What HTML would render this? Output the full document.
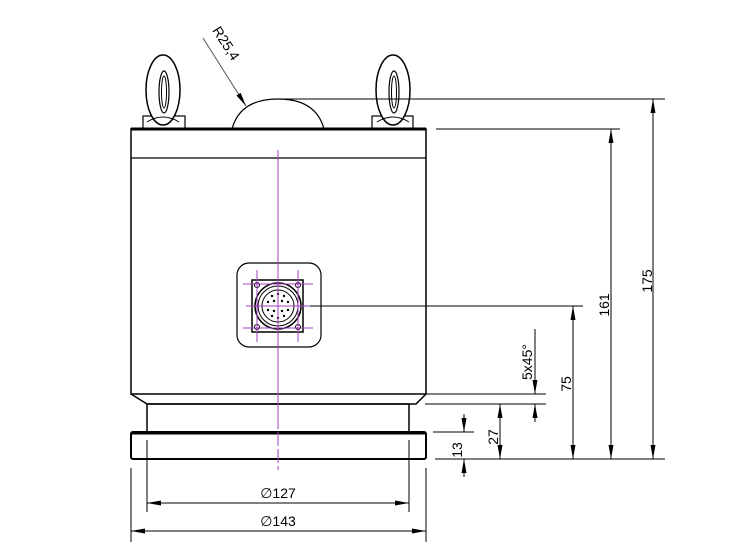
<!DOCTYPE html>
<html><head><meta charset="utf-8"><style>
html,body{margin:0;padding:0;background:#fff;}
svg{display:block;}
text{font-family:"Liberation Sans",sans-serif;font-size:14px;fill:#000;}
</style></head><body>
<svg width="752" height="550" viewBox="0 0 752 550" xmlns="http://www.w3.org/2000/svg">
<defs>
<marker id="b" viewBox="0 0 14 5" refX="14" refY="2.5" markerWidth="14" markerHeight="5" orient="auto-start-reverse" markerUnits="userSpaceOnUse"><path d="M0,0 L14,2.5 L0,5z" fill="#000"/></marker>
</defs>
<g fill="none" stroke="#000">
<!-- eye bolts -->
<rect x="143" y="116" width="42" height="13" fill="#fff" stroke-width="1.2"/>
<ellipse cx="163" cy="90" rx="17" ry="35" stroke-width="1.5" fill="#fff"/>
<ellipse cx="164" cy="92" rx="5" ry="21" stroke-width="1.2"/>
<ellipse cx="164" cy="92" rx="2.5" ry="16" stroke-width="1"/>
<rect x="372" y="116" width="41" height="13" fill="#fff" stroke-width="1.2"/>
<ellipse cx="393" cy="90" rx="17" ry="35" stroke-width="1.5" fill="#fff"/>
<ellipse cx="394" cy="92" rx="5" ry="21" stroke-width="1.2"/>
<ellipse cx="394" cy="92" rx="2.5" ry="16" stroke-width="1"/>
<path d="M147,122 Q163,112 179,122" stroke-width="1"/>
<path d="M377,122 Q393,112 409,122" stroke-width="1"/>
<!-- dome -->
<path d="M232,129 Q240,99 278,99 Q316,99 324,129" stroke-width="1.2"/>
<line x1="278" y1="99" x2="665" y2="99" stroke-width="1"/>
<!-- body -->
<rect x="131" y="129" width="295" height="265" stroke-width="1.5"/>
<line x1="131" y1="129" x2="426" y2="129" stroke-width="3"/>
<line x1="131" y1="158" x2="426" y2="158" stroke-width="1.2"/>
<path d="M131,394 L147,404 L416,404 L426,394" stroke-width="1.5"/>
<rect x="147" y="404" width="262" height="28" stroke-width="1.5"/>
<rect x="131" y="432" width="295" height="27" rx="2" stroke-width="2"/>
<line x1="131" y1="433" x2="426" y2="433" stroke-width="3"/>
<!-- connector -->
<rect x="237" y="263" width="84" height="84" rx="12" stroke-width="1.2"/>
<rect x="252" y="280" width="51" height="52" stroke-width="1.5"/>
<circle cx="278" cy="306" r="23" stroke-width="1.5"/>
<circle cx="278" cy="306" r="20" stroke-width="1"/>
<circle cx="278" cy="306" r="16" stroke-width="1"/>
<circle cx="257" cy="285" r="2.5"/><circle cx="298" cy="285" r="2.5"/>
<circle cx="257" cy="327" r="2.5"/><circle cx="298" cy="327" r="2.5"/>
<line x1="278" y1="306" x2="578" y2="306"/>
</g>
<g fill="#000">
<circle cx="272" cy="296" r="1.2"/><circle cx="278" cy="294" r="1.2"/><circle cx="284" cy="296" r="1.2"/>
<circle cx="268" cy="302" r="1.2"/><circle cx="274" cy="301" r="1.2"/><circle cx="282" cy="301" r="1.2"/><circle cx="288" cy="302" r="1.2"/>
<circle cx="268" cy="310" r="1.2"/><circle cx="274" cy="311" r="1.2"/><circle cx="282" cy="311" r="1.2"/><circle cx="288" cy="310" r="1.2"/>
<circle cx="272" cy="316" r="1.2"/><circle cx="278" cy="318" r="1.2"/><circle cx="284" cy="316" r="1.2"/>
</g>
<g stroke="#a040c0" stroke-width="1" fill="none">
<line x1="278" y1="150" x2="278" y2="415"/>
<line x1="278" y1="415" x2="278" y2="470" stroke-dasharray="14,3"/>
<line x1="243" y1="284" x2="313" y2="284"/>
<line x1="243" y1="328" x2="313" y2="328"/>
<line x1="246" y1="306" x2="310" y2="306"/>
<line x1="257" y1="270" x2="257" y2="342"/>
<line x1="298" y1="270" x2="298" y2="342"/>
</g>
<g stroke="#000" stroke-width="1" fill="none">
<line x1="203" y1="38" x2="246" y2="106" marker-end="url(#b)" stroke="#555"/>
<line x1="436" y1="129" x2="620" y2="129"/>
<line x1="415" y1="394" x2="546" y2="394"/>
<line x1="425" y1="404" x2="546" y2="404"/>
<line x1="435" y1="459" x2="665" y2="459"/>
<line x1="433" y1="432" x2="474" y2="432"/>
<line x1="573" y1="306" x2="583" y2="306"/>
<line x1="464" y1="414" x2="464" y2="432" marker-end="url(#b)"/>
<line x1="464" y1="477" x2="464" y2="459" marker-end="url(#b)"/>
<line x1="500" y1="404" x2="500" y2="459" marker-start="url(#b)" marker-end="url(#b)"/>
<line x1="535" y1="329" x2="535" y2="394" marker-end="url(#b)"/>
<line x1="535" y1="422" x2="535" y2="404" marker-end="url(#b)"/>
<line x1="573" y1="306" x2="573" y2="459" marker-start="url(#b)" marker-end="url(#b)"/>
<line x1="611" y1="129" x2="611" y2="459" marker-start="url(#b)" marker-end="url(#b)"/>
<line x1="653" y1="99" x2="653" y2="459" marker-start="url(#b)" marker-end="url(#b)"/>
<line x1="147" y1="440" x2="147" y2="512"/>
<line x1="409" y1="440" x2="409" y2="512"/>
<line x1="131" y1="468" x2="131" y2="542"/>
<line x1="426" y1="468" x2="426" y2="542"/>
<line x1="147" y1="503" x2="409" y2="503" marker-start="url(#b)" marker-end="url(#b)"/>
<line x1="131" y1="531" x2="426" y2="531" marker-start="url(#b)" marker-end="url(#b)"/>
</g>
<text x="278" y="498" text-anchor="middle">∅127</text>
<text x="278" y="526" text-anchor="middle">∅143</text>
<text transform="translate(222,46) rotate(57)" text-anchor="middle">R25,4</text>
<text transform="translate(462,450) rotate(-90)" text-anchor="middle">13</text>
<text transform="translate(498,437) rotate(-90)" text-anchor="middle">27</text>
<text transform="translate(532,362) rotate(-90)" text-anchor="middle">5x45°</text>
<text transform="translate(571,384) rotate(-90)" text-anchor="middle">75</text>
<text transform="translate(609,305) rotate(-90)" text-anchor="middle">161</text>
<text transform="translate(652,281) rotate(-90)" text-anchor="middle">175</text>
</svg>
</body></html>
